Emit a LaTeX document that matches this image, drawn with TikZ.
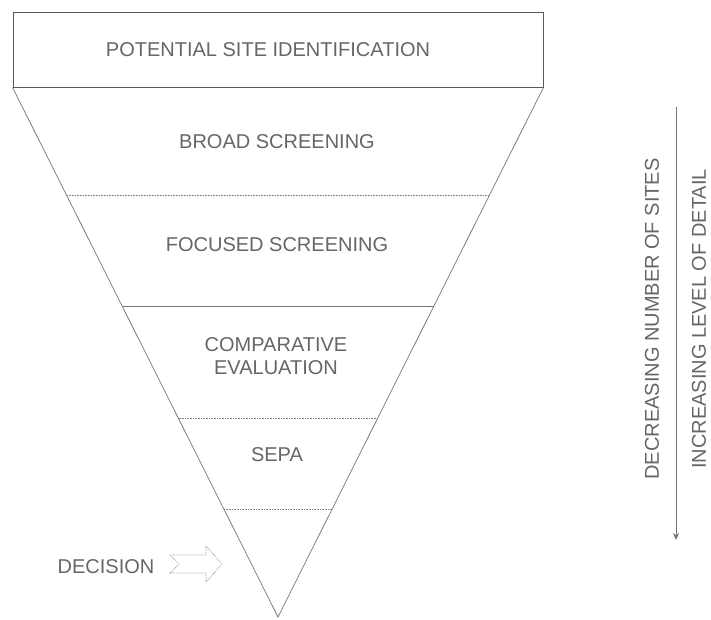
\documentclass[tikz,border=0pt]{standalone}
\usepackage{fontspec}
\setmainfont{Liberation Sans}
\usetikzlibrary{arrows.meta,calc}
\begin{document}
\begin{tikzpicture}[x=1pt,y=-1pt,
  lbl/.style={text=black!60,font=\fontsize{20}{23}\selectfont,inner sep=0pt,align=center},
  edge/.style={draw=black!55,line width=0.7pt},
  divline/.style={draw=black!50,line width=0.6pt,densely dotted},
  boxstyle/.style={draw=black!65,line width=0.9pt,minimum width=530pt,minimum height=75pt,inner sep=0pt}]
\useasboundingbox (0,0) rectangle (711,619);
% top box
\node[boxstyle] (top) at (278,49.5) {};
\node[lbl] (toptext) at (268,50) {POTENTIAL SITE IDENTIFICATION};
% funnel
\coordinate (apex) at (278,617);
\draw[edge] (top.south west) -- (apex) -- (top.south east);
% dividers
\coordinate (d1l) at (67,195);   \coordinate (d1r) at (489,195);
\coordinate (d2l) at (122.5,306);\coordinate (d2r) at (433.5,306);
\coordinate (d3l) at (178.5,418);\coordinate (d3r) at (377.5,418);
\coordinate (d4l) at (224,509);  \coordinate (d4r) at (332,509);
\draw[divline] (d1l) -- (d1r);
\draw[edge] (d2l) -- (d2r);
\draw[divline] (d3l) -- (d3r);
\draw[divline] (d4l) -- (d4r);
% stage labels
\node[lbl] (broad) at (277,142) {BROAD SCREENING};
\node[lbl] (focused) at (277,245) {FOCUSED SCREENING};
\node[lbl] (comp) at (276,356) {COMPARATIVE\\EVALUATION};
\node[lbl] (sepa) at (277,455) {SEPA};
% decision
\node[lbl] (decision) at (106,567) {DECISION};
\draw[divline,line width=0.7pt] (170,555) -- (206,555) -- (206,546) -- (222,564) -- (206,582) -- (206,573) -- (170,573) -- (179,564) -- cycle;
% right side
\node[lbl,rotate=90] (decr) at (652,319) {DECREASING NUMBER OF SITES};
\node[lbl,rotate=90] (incr) at (699,319) {INCREASING LEVEL OF DETAIL};
\coordinate (astart) at (676,107);
\coordinate (aend) at (676,540);
\draw[draw=black!55,line width=0.7pt,-{Stealth[length=7pt,width=6pt]}] (astart) -- (aend);
\end{tikzpicture}
\end{document}
